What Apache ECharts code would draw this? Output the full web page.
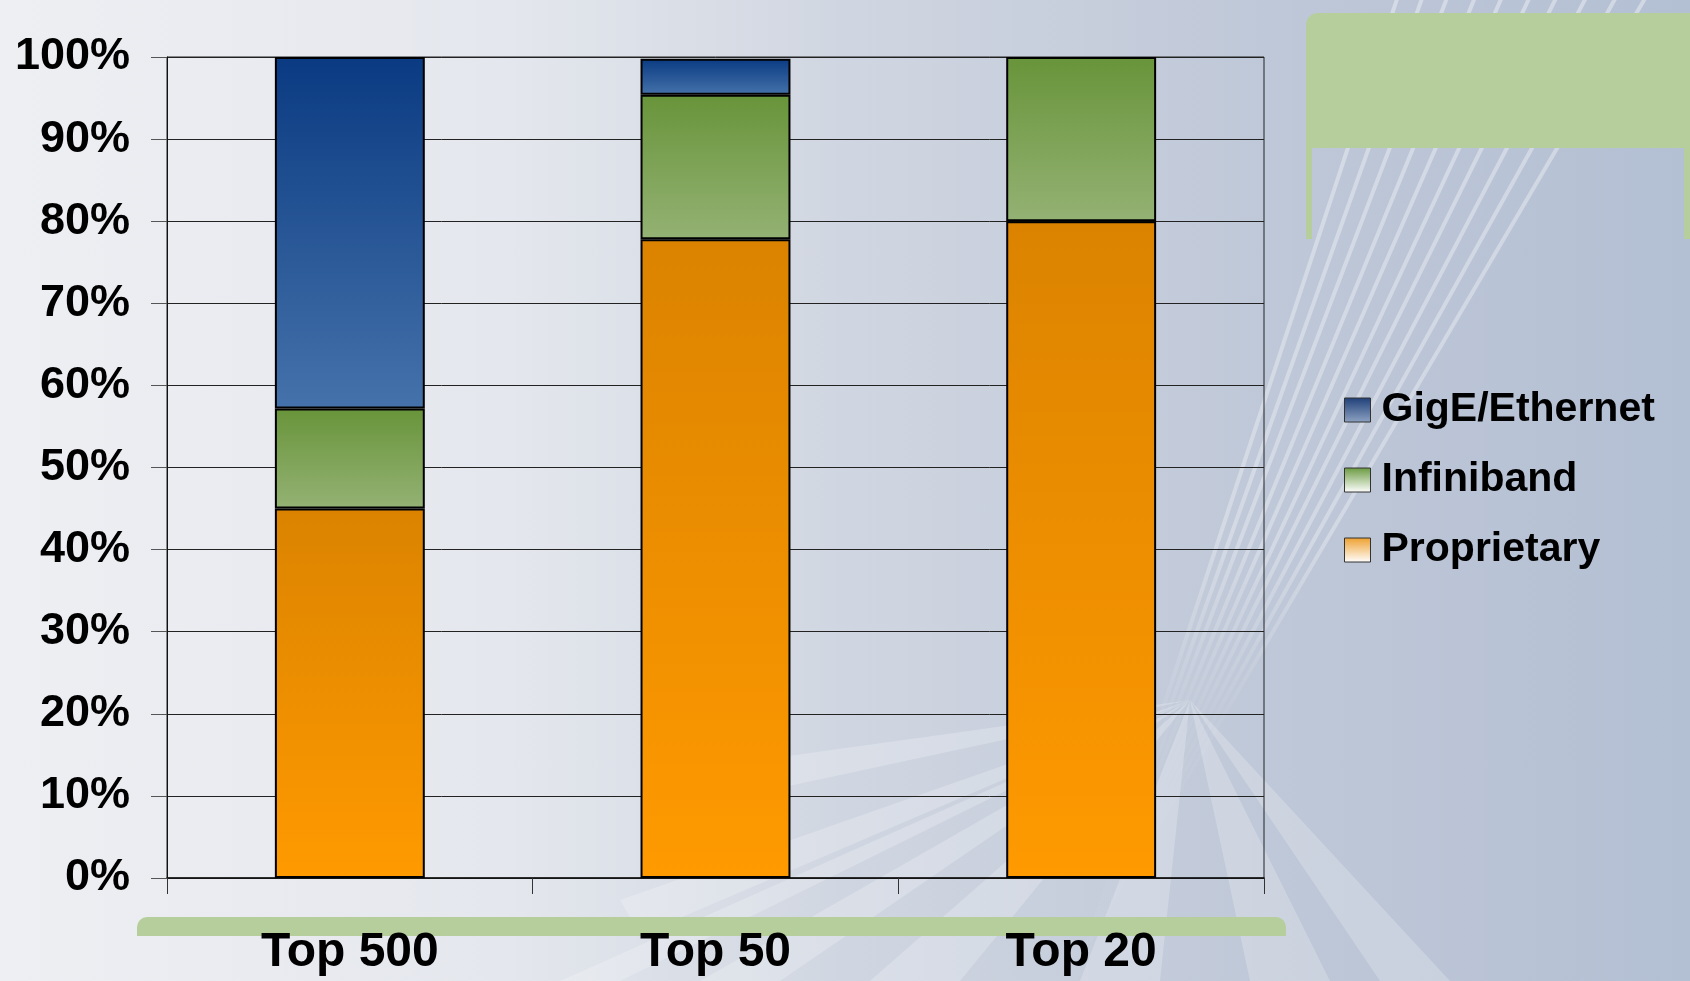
<!DOCTYPE html>
<html>
<head>
<meta charset="utf-8">
<script src="https://cdn.jsdelivr.net/npm/echarts@6/dist/echarts.min.js"></script>
<style>
  html, body { margin: 0; padding: 0; }
  #chart {
    width: 1690px; height: 981px;
    background: linear-gradient(90deg, #eeeff3 0%, #e4e7ed 30%, #d0d6e1 50%, #bfc8d8 75%, #b3bfd3 100%);
  }
</style>
</head>
<body>
<div id="chart"></div>
<script>
// ---- data ----
const categories = ['Top 500', 'Top 50', 'Top 20'];
const proprietary = [45.0, 77.8, 80.0];
const infiniband = [12.2, 17.6, 20.0];
const gigE = [42.8, 4.4, 0];
const seriesNames = ['GigE/Ethernet', 'Infiniband', 'Proprietary'];
const yTicks = { min: 0, max: 100, interval: 10 };

const FONT = '"Liberation Sans", Arial, sans-serif';
const grad = (top, bottom) => new echarts.graphic.LinearGradient(0, 0, 0, 1, [
  { offset: 0, color: top }, { offset: 1, color: bottom }
]);
const noZero = arr => arr.map(v => (v === 0 ? '-' : v));

// background decoration (fan of light stripes)
const deco = [];
const fanC = [1080, 960];
const topEnds = [1400, 1425, 1450, 1478, 1505, 1533, 1560, 1590, 1620, 1650];
const stripeGrad = new echarts.graphic.LinearGradient(0, 981, 0, 0, [
  { offset: 0, color: 'rgba(255,255,255,0)' },
  { offset: 0.28, color: 'rgba(255,255,255,0.05)' },
  { offset: 0.45, color: 'rgba(255,255,255,0.32)' },
  { offset: 1, color: 'rgba(255,255,255,0.38)' }
], true);
topEnds.forEach(x => {
  deco.push({ type: 'line', silent: true, z: -20,
    shape: { x1: fanC[0], y1: fanC[1], x2: x, y2: -10 },
    style: { stroke: stripeGrad, lineWidth: 4 } });
});
const rayC = [1190, 700];
const rayEnds = [[560, 981, 620, 981], [700, 981, 780, 981], [870, 981, 960, 981],
                 [1080, 981, 1160, 981], [1250, 981, 1330, 981], [1380, 981, 1450, 981],
                 [620, 900, 640, 935], [760, 760, 770, 790]];
rayEnds.forEach(r => {
  deco.push({ type: 'polygon', silent: true, z: -20,
    shape: { points: [rayC, [r[0], r[1]], [r[2], r[3]]] },
    style: { fill: 'rgba(255,255,255,0.22)' } });
});
// green decorations
const green = '#b6ce9c';
deco.push({ type: 'rect', silent: true, z: -10, shape: { x: 1306, y: 13, width: 390, height: 135, r: [12, 0, 0, 0] }, style: { fill: green } });
deco.push({ type: 'rect', silent: true, z: -10, shape: { x: 1306, y: 140, width: 6, height: 99 }, style: { fill: green } });
deco.push({ type: 'rect', silent: true, z: -10, shape: { x: 1684, y: 140, width: 6, height: 99 }, style: { fill: green } });
deco.push({ type: 'rect', silent: true, z: -10, shape: { x: 137, y: 917, width: 1149, height: 19, r: [10, 10, 0, 0] }, style: { fill: green } });

const chart = echarts.init(document.getElementById('chart'), null, { renderer: 'canvas' });
chart.setOption({
  backgroundColor: 'transparent',
  animation: false,
  graphic: { elements: deco },
  grid: { left: 167, right: 426, top: 57, bottom: 103, show: true, borderColor: '#222', borderWidth: 1, backgroundColor: 'transparent' },
  legend: {
    orient: 'vertical', left: 1339, top: 382,
    itemWidth: 26, itemHeight: 24, itemGap: 24,
    icon: 'rect',
    textStyle: { fontFamily: FONT, fontWeight: 'bold', fontSize: 41, color: '#000', lineHeight: 46, padding: [0, 0, 0, 6] },
    data: [
      { name: seriesNames[0], itemStyle: { color: grad('#1e3f78', '#8ea3c2'), borderColor: '#333', borderWidth: 1 } },
      { name: seriesNames[1], itemStyle: { color: grad('#6a9a40', '#ffffff'), borderColor: '#333', borderWidth: 1 } },
      { name: seriesNames[2], itemStyle: { color: grad('#eea02e', '#ffffff'), borderColor: '#333', borderWidth: 1 } }
    ]
  },
  xAxis: {
    type: 'category', data: categories,
    axisLine: { lineStyle: { color: '#111', width: 1.5 } },
    axisTick: { show: true, length: 16, lineStyle: { color: '#333' } },
    axisLabel: { fontFamily: FONT, fontWeight: 'bold', fontSize: 48, color: '#000', margin: 51, lineHeight: 48 }
  },
  yAxis: {
    type: 'value', min: yTicks.min, max: yTicks.max, interval: yTicks.interval,
    axisLine: { show: true, lineStyle: { color: '#111' } },
    axisTick: { show: true, length: 16, lineStyle: { color: '#555' } },
    splitLine: { show: true, lineStyle: { color: '#222', width: 1 } },
    axisLabel: { formatter: '{value}%', fontFamily: FONT, fontWeight: 'bold', fontSize: 45, color: '#000', margin: 37 }
  },
  series: [
    { name: seriesNames[2], type: 'bar', stack: 's', data: noZero(proprietary), barWidth: '41%',
      itemStyle: { color: grad('#db8300', '#ff9a00'), borderColor: '#000', borderWidth: 2 } },
    { name: seriesNames[1], type: 'bar', stack: 's', data: noZero(infiniband), barWidth: '41%',
      itemStyle: { color: grad('#68943a', '#94b274'), borderColor: '#000', borderWidth: 2 } },
    { name: seriesNames[0], type: 'bar', stack: 's', data: noZero(gigE), barWidth: '41%',
      itemStyle: { color: grad('#0a3a82', '#4572aa'), borderColor: '#000', borderWidth: 2 } }
  ]
});
</script>
</body>
</html>
